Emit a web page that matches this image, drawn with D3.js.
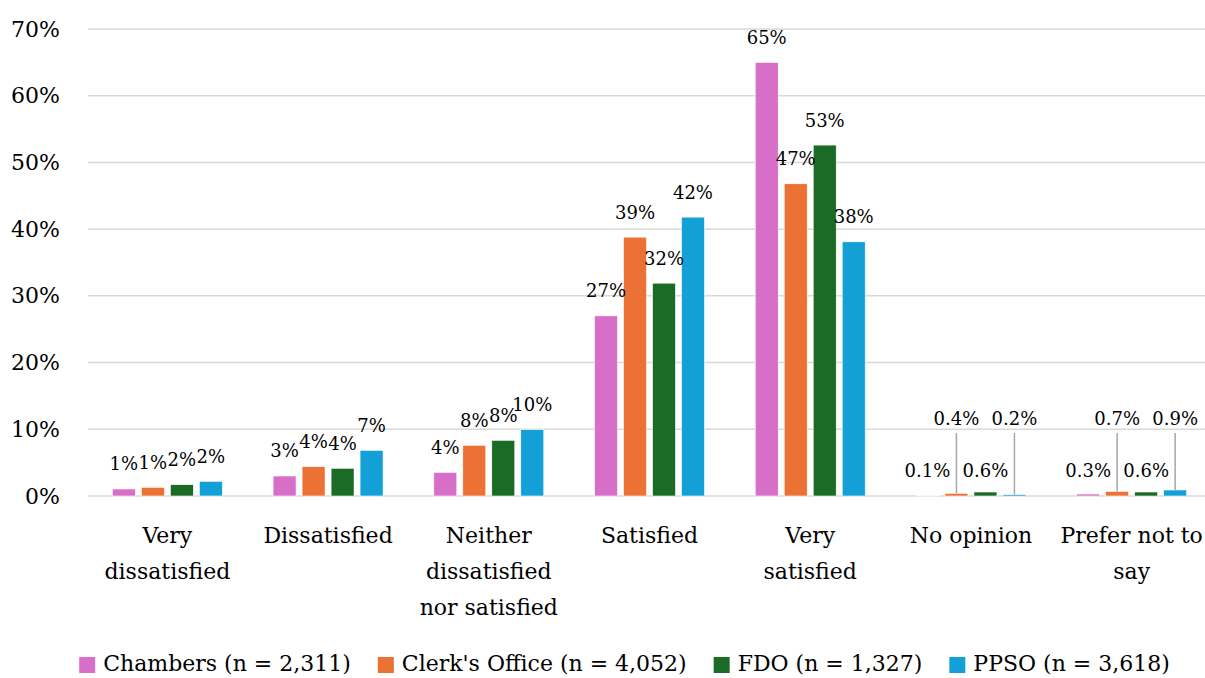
<!DOCTYPE html>
<html>
<head>
<meta charset="utf-8">
<script src="https://cdn.jsdelivr.net/npm/d3@7"></script>
<style>
  html, body { margin: 0; padding: 0; background: #fff; }
  svg { display: block; }
  text { font-family: "DejaVu Serif", "Liberation Serif", serif; fill: #000; }
</style>
</head>
<body>
<svg id="chart" width="1205" height="678"></svg>
<script>
// ---- data ----
const categories = [
  ["Very", "dissatisfied"],
  ["Dissatisfied"],
  ["Neither", "dissatisfied", "nor satisfied"],
  ["Satisfied"],
  ["Very", "satisfied"],
  ["No opinion"],
  ["Prefer not to", "say"]
];
const seriesNames = ["Chambers (n = 2,311)", "Clerk's Office (n = 4,052)", "FDO (n = 1,327)", "PPSO (n = 3,618)"];
const seriesColors = ["#D76FC9", "#EB7234", "#1B6B27", "#12A0D7"];
const chambers     = [1.05, 3.0, 3.55, 27.0, 65.0, 0.1, 0.3];
const clerksOffice = [1.3, 4.4, 7.6, 38.8, 46.8, 0.4, 0.7];
const fdo          = [1.7, 4.15, 8.35, 31.9, 52.6, 0.6, 0.6];
const ppso         = [2.2, 6.85, 9.95, 41.8, 38.1, 0.2, 0.9];
const seriesValues = [chambers, clerksOffice, fdo, ppso];
const yTicks = [0, 10, 20, 30, 40, 50, 60, 70];

// ---- layout ----
const svg = d3.select("#chart");
const catKeys = categories.map(c => c.join(" "));
const x0 = d3.scaleBand().domain(catKeys).range([87, 1212]).paddingInner(0).paddingOuter(0);
const x1 = d3.scaleBand().domain(d3.range(seriesNames.length)).range([0, x0.bandwidth()])
  .paddingInner(0.207).paddingOuter(0.875);
const y = d3.scaleLinear().domain([0, 70]).range([496, 29]);

// gridlines
svg.append("g").selectAll("line").data(yTicks).join("line")
  .attr("x1", 88).attr("x2", 1205)
  .attr("y1", d => y(d)).attr("y2", d => y(d))
  .attr("stroke", "#D9D9D9").attr("stroke-width", 1.5);

// y axis
const yAxis = d3.axisLeft(y).tickValues(yTicks).tickFormat(d => d + "%").tickSize(0).tickPadding(0);
const yg = svg.append("g").attr("transform", "translate(60,0)").call(yAxis);
yg.select(".domain").remove();
yg.selectAll("text").attr("font-size", 22).attr("font-family", '"DejaVu Serif", serif').attr("fill", "#000");

// x axis labels
const xg = svg.append("g");
categories.forEach((lines, i) => {
  const cx = x0(catKeys[i]) + x0.bandwidth() / 2;
  const t = xg.append("text").attr("x", cx).attr("y", 535)
    .attr("text-anchor", "middle").attr("dominant-baseline", "central").attr("font-size", 22);
  lines.forEach((ln, j) => t.append("tspan").attr("x", cx).attr("dy", j === 0 ? 0 : 36).text(ln));
});

// bars
const flat = [];
seriesValues.forEach((vals, s) => vals.forEach((v, c) => flat.push({ s, c, v })));
svg.append("g").selectAll("rect").data(flat).join("rect")
  .attr("x", d => x0(catKeys[d.c]) + x1(d.s))
  .attr("width", x1.bandwidth())
  .attr("y", d => y(d.v))
  .attr("height", d => y(0) - y(d.v))
  .attr("fill", d => seriesColors[d.s])
  .attr("stroke", "#fff").attr("stroke-width", 0.6);

// data labels
const fmt = v => v < 1 ? v.toFixed(1) + "%" : Math.round(v) + "%";
const lg = svg.append("g");
flat.forEach(d => {
  const cx = x0(catKeys[d.c]) + x1(d.s) + x1.bandwidth() / 2;
  let ly;
  if (d.v < 1) {
    if (d.s % 2 === 0) {
      ly = y(0) - 26;
    } else {
      ly = y(0) - 78;
      lg.append("line").attr("x1", cx).attr("x2", cx)
        .attr("y1", y(0) - 63).attr("y2", y(d.v))
        .attr("stroke", "#A6A6A6").attr("stroke-width", 1.5);
    }
  } else {
    ly = y(d.v) - 25;
  }
  lg.append("text").attr("x", cx).attr("y", ly)
    .attr("text-anchor", "middle").attr("dominant-baseline", "central")
    .attr("font-size", 18).text(fmt(d.v));
});

// legend
const leg = svg.append("g");
let cursor = 0;
seriesNames.forEach((name, i) => {
  const g = leg.append("g");
  g.append("rect").attr("x", 0).attr("y", -8).attr("width", 16).attr("height", 16).attr("fill", seriesColors[i]);
  const t = g.append("text").attr("x", 24).attr("y", -2).attr("dominant-baseline", "central")
    .attr("font-size", 22).text(name);
  const w = 24 + t.node().getComputedTextLength();
  g.attr("transform", `translate(${cursor},0)`);
  cursor += w + 27;
});
const totalW = cursor - 27;
leg.attr("transform", `translate(${624.5 - totalW / 2},665)`);
</script>
</body>
</html>
